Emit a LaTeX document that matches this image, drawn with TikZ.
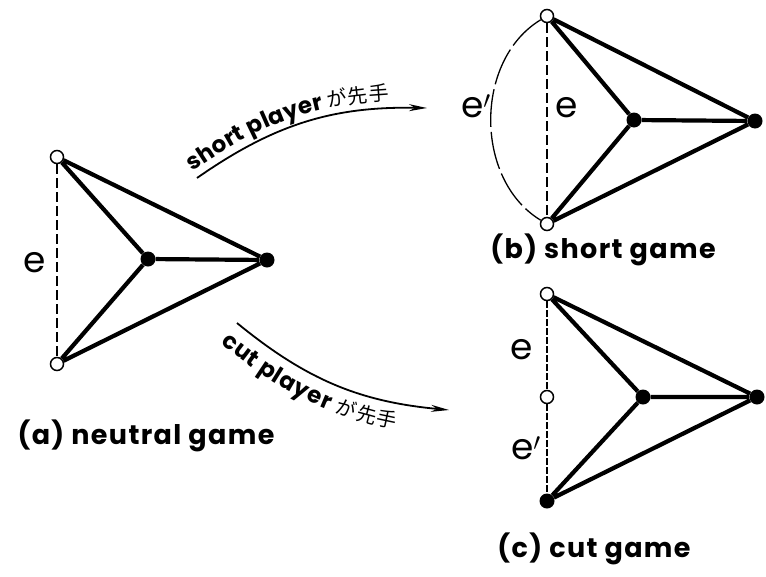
\documentclass[tikz,border=0pt]{standalone}
\usepackage{fontspec}
\setmainfont{Poppins}
\newfontfamily\cjk{Noto Sans CJK JP}
\usetikzlibrary{arrows.meta,decorations.text}
\newcommand\playerfont{\fontsize{23}{23}\selectfont\bfseries}
\newcommand\kanafont{\cjk\fontsize{20}{20}\selectfont}

\begin{document}
\begin{tikzpicture}[x=1pt,y=-1pt,
  opennode/.style={circle,draw,fill=white,line width=1.5pt,inner sep=0pt,minimum size=13pt},
  fullnode/.style={circle,fill=black,inner sep=0pt,minimum size=15pt},
  link/.style={line width=4.2pt},
  cutlink/.style={line width=1.3pt,dash pattern=on 10pt off 4pt},
  elabel/.style={font=\fontsize{36}{36}\selectfont},
  gamecap/.style={font=\fontsize{27}{27}\selectfont\bfseries\addfontfeature{LetterSpace=5}},
  playmove/.style={line width=1.8pt,-{Stealth[length=18pt,width=7pt]}}]
\useasboundingbox (0,0) rectangle (766,576);
% (a) neutral game
\node[opennode] (a1) at (57,157) {};
\node[opennode] (a2) at (57,364) {};
\node[fullnode] (a3) at (148,259) {};
\node[fullnode] (a4) at (267,260) {};
\draw[link] (a1)--(a3) (a1)--(a4) (a2)--(a3) (a2)--(a4) (a3)--(a4);
\draw[cutlink] (a1)--(a2);
\node[elabel] (ea) at (35,263) {e};
\node[gamecap] (capa) at (146,436) {(a) neutral game};
% (b) short game
\node[opennode] (b1) at (547,16) {};
\node[opennode] (b2) at (547,224) {};
\node[fullnode] (b3) at (634,120) {};
\node[fullnode] (b4) at (755,121) {};
\draw[link] (b1)--(b3) (b1)--(b4) (b2)--(b3) (b2)--(b4) (b3)--(b4);
\draw[cutlink] (b1)--(b2);
\draw[line width=1.3pt,dash pattern=on 38pt off 5pt] (b1) .. controls (474,60) and (474,180) .. (b2);
\node[elabel] (eb) at (567,108) {e};
\node[elabel] (eb2) at (476,106) {e$'$};
\node[gamecap] (capb) at (603,250) {(b) short game};
% (c) cut game
\node[opennode] (c1) at (547,294) {};
\node[opennode] (c2) at (547,397) {};
\node[fullnode] (c3) at (547,501) {};
\node[fullnode] (c4) at (643,397) {};
\node[fullnode] (c5) at (757,397) {};
\draw[link] (c1)--(c4) (c1)--(c5) (c3)--(c4) (c3)--(c5) (c4)--(c5);
\draw[line width=1.3pt,dash pattern=on 7pt off 2pt] (c1)--(c2) (c2)--(c3);
\node[elabel] (ec) at (522,350) {e};
\node[elabel] (ec2) at (526,448) {e$'$};
\node[gamecap] (capc) at (594,549) {(c) cut game};
% moves
\coordinate (s0) at (197,178);
\coordinate (s1) at (427,108);
\draw[playmove] (s0) to[bend left=18] (s1);
\path[decorate,decoration={text along path,text align={left indent=0pt},raise=8pt,
  text={|\playerfont|short player|\kanafont| が先手}}] (s0) to[bend left=18] (s1);
\coordinate (t0) at (237,323);
\coordinate (t1) at (449,410);
\draw[playmove] (t0) to[bend right=17] (t1);
\path[decorate,decoration={text along path,text align={left indent=0pt},raise=-26pt,
  text={|\playerfont|cut player|\kanafont| が先手}}] (t0) to[bend right=17] (t1);
\end{tikzpicture}
\end{document}
